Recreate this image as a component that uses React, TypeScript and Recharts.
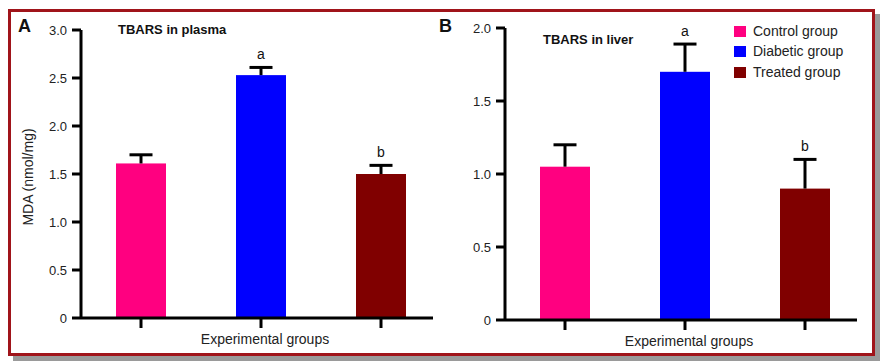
import React from 'react';
import { BarChart, Bar, XAxis, YAxis, ReferenceDot } from 'recharts';

const categories = ['Control group', 'Diabetic group', 'Treated group'];
const colors = ['#FF0080', '#0000FF', '#800000'];
const letters = ['', 'a', 'b'];

const plasmaValues = [1.61, 2.53, 1.5];
const plasmaErrors = [0.09, 0.08, 0.09];
const plasmaTicks = [0, 0.5, 1.0, 1.5, 2.0, 2.5, 3.0];

const liverValues = [1.05, 1.7, 0.9];
const liverErrors = [0.15, 0.19, 0.2];
const liverTicks = [0, 0.5, 1.0, 1.5, 2.0];

const FONT = 'Arial, "Liberation Sans", sans-serif';

const buildData = (vals: number[], errs: number[]) =>
  categories.map((c, i) => ({ name: c, value: vals[i], err: errs[i], color: colors[i] }));

const fmt = (v: number) => (v === 0 ? '0' : v.toFixed(1));

// Bar + one-sided (upper) error bar, scaled with the bar's own pixels-per-unit
const BarWithError = (props: any) => {
  const { x, y, width, height, payload } = props;
  const pxPerUnit = height / payload.value;
  const errPx = payload.err * pxPerUnit;
  const cx = x + width / 2;
  const capHalf = 11.5;
  return (
    <g>
      <rect x={x} y={y} width={width} height={height} fill={payload.color} />
      <line x1={cx} x2={cx} y1={y} y2={y - errPx} stroke="#000" strokeWidth={3} />
      <line x1={cx - capHalf} x2={cx + capHalf} y1={y - errPx} y2={y - errPx} stroke="#000" strokeWidth={3} />
    </g>
  );
};

type PanelProps = {
  vals: number[];
  errs: number[];
  ticks: number[];
  max: number;
  showYLabel: boolean;
  top: number;
  bottom: number;
};

const Panel = ({ vals, errs, ticks, max, showYLabel, top, bottom }: PanelProps) => {
  const data = buildData(vals, errs);
  const axisStroke = '#000';
  return (
    <BarChart
      width={440}
      height={364}
      data={data}
      margin={{ top, right: 7, bottom, left: 0 }}
      style={{ fontFamily: FONT }}
    >
      <XAxis
        dataKey="name"
        tickFormatter={() => ''}
        stroke={axisStroke}
        strokeWidth={3}
        tickSize={10}
        height={30}
        padding={{ left: 0, right: -8 }}
        label={{ value: 'Experimental groups', position: 'insideBottom', offset: 4, dx: 8, fill: '#222', fontSize: 14 }}
      />
      <YAxis
        width={81}
        domain={[0, max]}
        ticks={ticks}
        interval={0}
        tickFormatter={fmt}
        stroke={axisStroke}
        strokeWidth={3}
        tickSize={9}
        tick={{ fill: '#222', fontSize: 13, dx: -3 }}
        label={
          showYLabel
            ? { value: 'MDA (nmol/mg)', angle: -90, position: 'insideLeft', offset: 28, dy: 3, fill: '#222', fontSize: 14, style: { textAnchor: 'middle' } }
            : undefined
        }
      />
      <Bar dataKey="value" barSize={50} isAnimationActive={false} shape={<BarWithError />} />
      {data.map((d, i) =>
        letters[i] ? (
          <ReferenceDot
            key={'l' + i}
            x={d.name}
            y={vals[i] + errs[i]}
            r={0}
            fill="none"
            stroke="none"
            label={{ value: letters[i], position: 'top', offset: 8, fill: '#111', fontSize: 14 }}
          />
        ) : null
      )}
    </BarChart>
  );
};

const LegendBox = () => (
  <div style={{ position: 'absolute', left: 734, top: 21, fontFamily: FONT, fontSize: 14, color: '#222' }}>
    {categories.map((c, i) => (
      <div key={c} style={{ display: 'flex', alignItems: 'center', height: 20, marginBottom: i === 1 ? 1 : 0 }}>
        <span style={{ display: 'inline-block', width: 12, height: 11, background: colors[i], marginRight: 7 }} />
        <span>{c}</span>
      </div>
    ))}
  </div>
);

export default function App() {
  return (
    <div style={{ position: 'absolute', left: 0, top: 0, width: 886, height: 364, background: '#fff', overflow: 'hidden' }}>
      <div
        style={{
          position: 'absolute',
          left: 8,
          top: 9,
          width: 861,
          height: 341,
          border: '3px solid #A0141A',
          boxShadow: '5px 5px 0 #9a9a9a',
        }}
      />
      <div style={{ position: 'absolute', left: 0, top: 0 }}>
        <Panel vals={plasmaValues} errs={plasmaErrors} ticks={plasmaTicks} max={3} showYLabel top={30} bottom={16} />
      </div>
      <div style={{ position: 'absolute', left: 424, top: 0 }}>
        <Panel vals={liverValues} errs={liverErrors} ticks={liverTicks} max={2} showYLabel={false} top={28} bottom={14} />
      </div>
      <LegendBox />
      <div style={{ position: 'absolute', left: 18, top: 16, fontFamily: FONT, fontWeight: 'bold', fontSize: 18, color: '#111' }}>A</div>
      <div style={{ position: 'absolute', left: 118, top: 22, fontFamily: FONT, fontWeight: 'bold', fontSize: 13, color: '#111' }}>TBARS in plasma</div>
      <div style={{ position: 'absolute', left: 439, top: 16, fontFamily: FONT, fontWeight: 'bold', fontSize: 18, color: '#111' }}>B</div>
      <div style={{ position: 'absolute', left: 543, top: 32, fontFamily: FONT, fontWeight: 'bold', fontSize: 13, color: '#111' }}>TBARS in liver</div>
    </div>
  );
}
